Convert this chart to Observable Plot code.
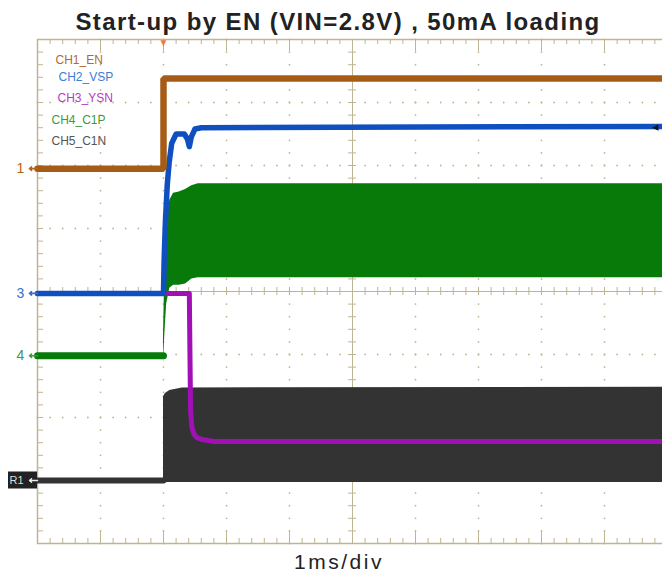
<!DOCTYPE html>
<html>
<head>
<meta charset="utf-8">
<script src="https://cdn.jsdelivr.net/npm/d3@7"></script>
<script src="https://cdn.jsdelivr.net/npm/@observablehq/plot@0.6"></script>
<style>
  html, body { margin: 0; padding: 0; background: #fff; overflow: hidden; }
  #wrap { position: relative; width: 662px; height: 574px; }
  #title { position: absolute; left: 38px; top: 8px; width: 600px; text-align: center; line-height: 24px;
    font: bold 24px "Liberation Sans", Arial, sans-serif; letter-spacing: 1.4px; color: #222; white-space: nowrap; }
  #caption { position: absolute; left: 239px; top: 550px; width: 200px; text-align: center; line-height: 21px;
    font: 21px "Liberation Sans", Arial, sans-serif; letter-spacing: 2.5px; color: #222; }
  #chart { position: absolute; left: 0; top: 0; }
</style>
</head>
<body>
<div id="wrap">
  <div id="chart"></div>
  <div id="title">Start-up by EN (VIN=2.8V) , 50mA loading</div>
  <div id="caption">1ms/div</div>
</div>
<script>
// ---- data (time in ms, level in screen divisions from bottom) ----
const enT  = [0, 2.0, 2.0, 10];
const enV  = [5.95, 5.95, 7.38, 7.38];

const vspT = [0, 2.0, 2.01, 2.03, 2.06, 2.09, 2.13, 2.2, 2.33, 2.38, 2.41, 2.44, 2.5, 2.6, 10];
const vspV = [3.97, 3.97, 4.5, 5.1, 5.7, 6.05, 6.35, 6.5, 6.5, 6.42, 6.3, 6.45, 6.58, 6.6, 6.62];

const ysnT = [0, 2.41, 2.42, 2.43, 2.45, 2.48, 2.53, 2.62, 2.8, 10];
const ysnV = [3.97, 3.97, 3.0, 2.1, 1.85, 1.74, 1.68, 1.65, 1.62, 1.62];

const c1pBaseT = [0, 2.0];
const c1pBaseV = [2.98, 2.98];
const c1pT    = [2.0, 2.02, 2.05, 2.1, 2.16, 2.25, 2.35, 2.45, 2.55, 10];
const c1pHigh = [3.3, 4.3, 5.1, 5.45, 5.56, 5.58, 5.62, 5.68, 5.71, 5.71];
const c1pLow  = [2.85, 3.3, 3.8, 4.05, 4.1, 4.1, 4.12, 4.2, 4.22, 4.22];

const c1nBaseT = [0, 2.0];
const c1nBaseV = [1.0, 1.0];
const c1nT    = [2.0, 2.03, 2.1, 2.3, 10];
const c1nHigh = [2.33, 2.38, 2.43, 2.47, 2.48];
const c1nLow  = [0.97, 0.97, 0.97, 0.97, 0.97];

const legendNames  = ["CH1_EN", "CH2_VSP", "CH3_YSN", "CH4_C1P", "CH5_C1N"];
const legendColors = ["#b26a2c", "#3b7ed2", "#b73bc0", "#3f9a3a", "#555555"];

const markerLabels = ["1", "3", "4"];
const markerLevels = [5.95, 3.97, 2.98];
const markerColors = ["#b0641e", "#3a6fd0", "#3f9a3a"];
const gndLabel = "R1";
const gndLevel = 1.0;

const triggerTime = 2.0;
const xDivs = 10, yDivs = 8, minorPerDiv = 5;

// ---- colours ----
const cEN = "#a65c16", cVSP = "#0f4fc0", cYSN = "#a010b4", cC1P = "#087a0a", cC1N = "#333333";
const gridC = "#bfb592";

// ---- graticule helpers ----
const minor = d3.range(0, xDivs * minorPerDiv + 1).map(i => i / minorPerDiv);
const minorY = d3.range(0, yDivs * minorPerDiv + 1).map(i => i / minorPerDiv);
const majorX = d3.range(1, xDivs);
const majorY = d3.range(1, yDivs);
const dotsV = majorX.filter(x => x !== 5).flatMap(x => minorY.map(y => ({x, y})));
const dotsH = majorY.filter(y => y !== 4).flatMap(y => minor.map(x => ({x, y})));
const px = 1 / 63; // one pixel in division units

const toRows = (t, v) => t.map((d, i) => ({t: d, v: v[i]}));
const toBand = (t, lo, hi) => t.map((d, i) => ({t: d, lo: lo[i], hi: hi[i]}));

// legend layout (pixel offsets from the top-left of the graticule)
const legendDx = [18, 21, 20, 14, 14];
const legendDy = [16, 33, 54, 76, 97];

const legendMarks = legendNames.map((name, i) => Plot.text([name], {
  frameAnchor: "top-left", text: d => d, fill: legendColors[i],
  dx: legendDx[i], dy: legendDy[i], fontSize: 12, textAnchor: "start",
  fontFamily: "Liberation Sans, Arial, sans-serif"
}));

const plot = Plot.plot({
  width: 662,
  height: 574,
  marginLeft: 37,
  marginRight: -5,
  marginTop: 39,
  marginBottom: 31,
  x: {domain: [0, xDivs], axis: null},
  y: {domain: [0, yDivs], axis: null},
  style: {background: "transparent", overflow: "visible"},
  marks: [
    // graticule dots
    Plot.dot(dotsV, {x: "x", y: "y", r: 0.9, fill: gridC, stroke: null}),
    Plot.dot(dotsH, {x: "x", y: "y", r: 0.9, fill: gridC, stroke: null}),
    // center cross
    Plot.ruleX([5], {stroke: gridC, strokeWidth: 1}),
    Plot.ruleY([4], {stroke: gridC, strokeWidth: 1}),
    Plot.ruleY(minorY, {x1: 5 - 4 * px, x2: 5 + 4 * px, y: d => d, stroke: gridC}),
    Plot.ruleX(minor, {y1: 4 - 4 * px, y2: 4 + 4 * px, x: d => d, stroke: gridC}),
    // border ticks
    Plot.ruleX(minor, {x: d => d, y1: 0, y2: d => (d % 1 === 0 ? 12 : 5) * px, stroke: gridC}),
    Plot.ruleX(minor, {x: d => d, y1: yDivs, y2: d => yDivs - (d % 1 === 0 ? 12 : 5) * px, stroke: gridC}),
    Plot.ruleY(minorY, {y: d => d, x1: 0, x2: 6 * px, stroke: gridC}),
    Plot.frame({stroke: gridC, strokeWidth: 1.5}),

    // CH5 C1N
    Plot.line(toRows(c1nBaseT, c1nBaseV), {x: "t", y: "v", stroke: cC1N, strokeWidth: 6}),
    Plot.areaY(toBand(c1nT, c1nLow, c1nHigh), {x: "t", y1: "lo", y2: "hi", fill: cC1N}),
    // CH4 C1P
    Plot.line(toRows(c1pBaseT, c1pBaseV), {x: "t", y: "v", stroke: cC1P, strokeWidth: 7}),
    Plot.areaY(toBand(c1pT, c1pLow, c1pHigh), {x: "t", y1: "lo", y2: "hi", fill: cC1P}),
    // CH3 YSN
    Plot.line(toRows(ysnT, ysnV), {x: "t", y: "v", stroke: cYSN, strokeWidth: 5, strokeLinejoin: "round"}),
    // CH2 VSP
    Plot.line(toRows(vspT, vspV), {x: "t", y: "v", stroke: cVSP, strokeWidth: 5.5, strokeLinejoin: "round"}),
    // CH1 EN
    Plot.line(toRows(enT, enV), {x: "t", y: "v", stroke: cEN, strokeWidth: 6.5, strokeLinejoin: "miter"}),

    // trigger marker
    Plot.text([triggerTime], {x: d => d, y: yDivs, text: () => "▼", fill: "#f07a3c", fontSize: 10, dy: 3}),
    // right reference marker
    Plot.text([vspV[vspV.length - 1]], {x: xDivs, y: d => d, text: () => "◂", fill: "#111", fontSize: 13, dx: -12}),

    // channel level markers
    Plot.text(markerLabels, {x: 0, y: (d, i) => markerLevels[i], text: d => d, fill: (d, i) => markerColors[i],
      fontSize: 14, dx: -17, fontFamily: "Liberation Sans, Arial, sans-serif"}),
    Plot.arrow(markerLabels, {x1: 0, x2: -8 * px, y1: (d, i) => markerLevels[i], y2: (d, i) => markerLevels[i],
      stroke: (d, i) => markerColors[i], strokeWidth: 1.6, headLength: 5, headAngle: 80}),
    Plot.rect([gndLevel], {x1: -29 * px, x2: 0, y1: d => d - 8.5 * px, y2: d => d + 8.5 * px, fill: "#222"}),
    Plot.text([gndLabel], {x: 0, y: gndLevel, text: d => d, fill: "#ddd", fontSize: 11, dx: -21,
      fontFamily: "Liberation Sans, Arial, sans-serif"}),
    Plot.arrow([gndLevel], {x1: 0, x2: -8 * px, y1: d => d, y2: d => d, stroke: "#eee", strokeWidth: 1.4, headLength: 4, headAngle: 80}),

    ...legendMarks
  ]
});

document.getElementById("chart").appendChild(plot);
</script>
</body>
</html>
